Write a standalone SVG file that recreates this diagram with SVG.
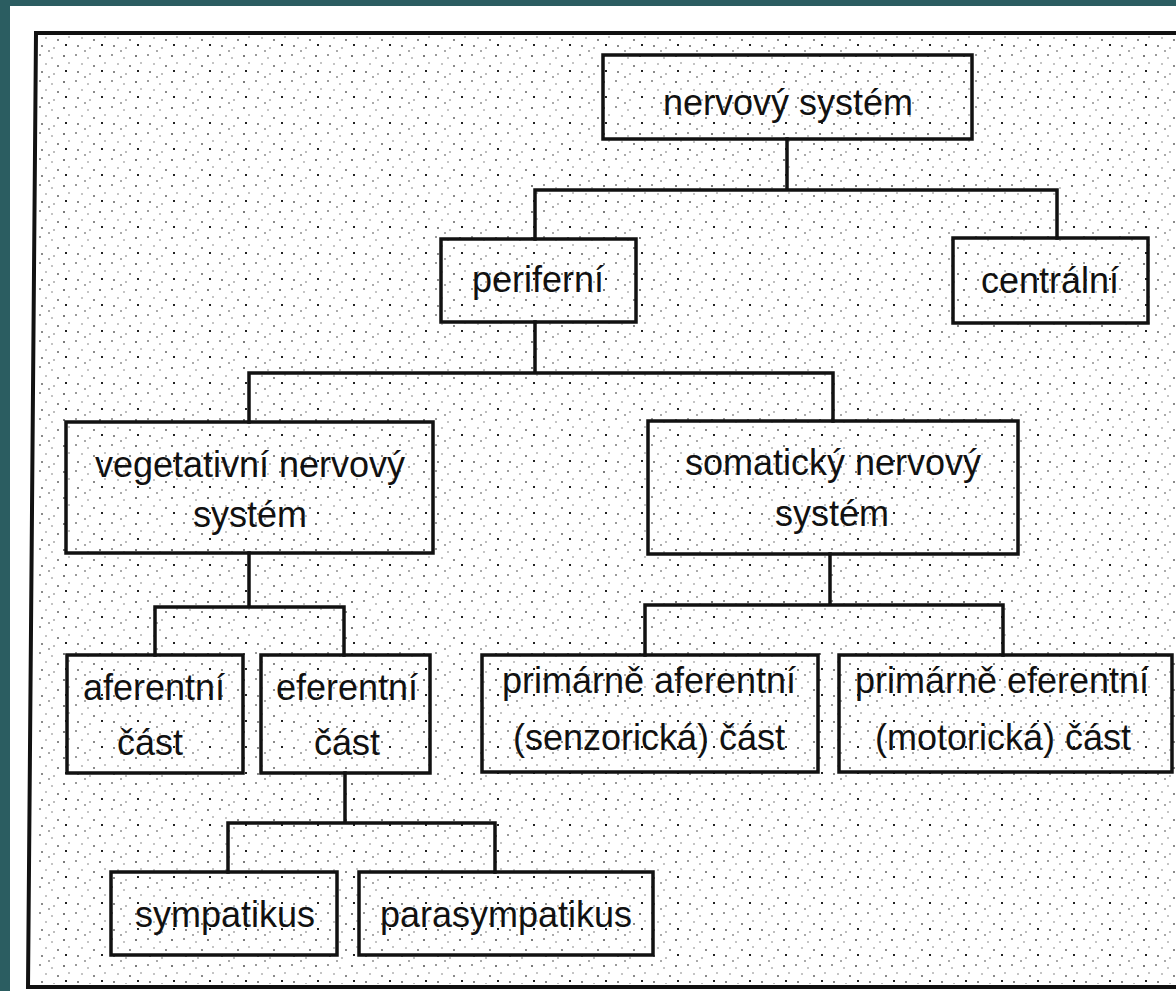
<svg xmlns="http://www.w3.org/2000/svg" width="1176" height="991" viewBox="0 0 1176 991">
  <defs>
    <pattern id="noise" x="0" y="0" width="36" height="26" patternUnits="userSpaceOnUse">
      <rect x="3" y="2" width="2" height="2" fill="#9a9a9a"/>
      <rect x="15" y="5" width="2" height="2" fill="#c4c4c4"/>
      <rect x="27" y="3" width="2" height="2" fill="#7a7a7a"/>
      <rect x="9" y="11" width="2" height="2" fill="#c4c4c4"/>
      <rect x="21" y="13" width="2" height="2" fill="#8a8a8a"/>
      <rect x="32" y="10" width="2" height="2" fill="#c4c4c4"/>
      <rect x="5" y="19" width="2" height="2" fill="#8a8a8a"/>
      <rect x="17" y="21" width="2" height="2" fill="#bdbdbd"/>
      <rect x="29" y="18" width="2" height="2" fill="#222"/>
      <rect x="12" y="24" width="2" height="2" fill="#aaaaaa"/>
    </pattern>
    <style>
      .box { fill: none; stroke: #111; stroke-width: 3.5; }
      .lbl { font-family: "Liberation Sans", Arial, sans-serif; font-size: 36px; fill: #111; text-anchor: middle; }
      .con { fill: none; stroke: #111; stroke-width: 3.5; stroke-linecap: square; }
    </style>
  </defs>
  <rect x="0" y="0" width="1176" height="991" fill="#2b5d61"/>
  <rect x="10" y="6" width="1166" height="985" fill="#ffffff"/>
  <rect x="38" y="36" width="1138" height="948" fill="url(#noise)"/>
  <path d="M1176,33 L36,33 L28,987 L1176,987" fill="none" stroke="#111" stroke-width="4"/>

  <g id="connectors">
    <path class="con" d="M787,139 V190 M535,190 H1057 M535,190 V239 M1057,190 V238"/>
    <path class="con" d="M535,322 V373 M249,373 H833 M249,373 V422 M833,373 V421"/>
    <path class="con" d="M249,553 V607 M155,607 H344 M155,607 V655 M344,607 V655"/>
    <path class="con" d="M830,554 V605 M645,605 H1003 M645,605 V655 M1003,605 V655"/>
    <path class="con" d="M345,773 V823 M228,823 H495 M228,823 V872 M495,823 V872"/>
  </g>

  <g id="n-nervovy-system">
    <rect class="box" x="603" y="55" width="369" height="84"/>
    <text class="lbl" x="788" y="115">nervový systém</text>
  </g>
  <g id="n-periferni">
    <rect class="box" x="441" y="239" width="195" height="83"/>
    <text class="lbl" x="538" y="292">periferní</text>
  </g>
  <g id="n-centralni">
    <rect class="box" x="953" y="238" width="195" height="85"/>
    <text class="lbl" x="1050" y="293">centrální</text>
  </g>
  <g id="n-vegetativni">
    <rect class="box" x="66" y="422" width="367" height="131"/>
    <text class="lbl" x="250" y="477">vegetativní nervový</text>
    <text class="lbl" x="250" y="527">systém</text>
  </g>
  <g id="n-somaticky">
    <rect class="box" x="648" y="421" width="370" height="133"/>
    <text class="lbl" x="833" y="475">somatický nervový</text>
    <text class="lbl" x="832" y="526">systém</text>
  </g>
  <g id="n-aferentni">
    <rect class="box" x="67" y="655" width="176" height="118"/>
    <text class="lbl" x="154" y="700">aferentní</text>
    <text class="lbl" x="150" y="755">část</text>
  </g>
  <g id="n-eferentni">
    <rect class="box" x="261" y="655" width="169" height="118"/>
    <text class="lbl" x="347" y="700">eferentní</text>
    <text class="lbl" x="347" y="755">část</text>
  </g>
  <g id="n-primarne-aferentni">
    <rect class="box" x="482" y="655" width="336" height="117"/>
    <text class="lbl" x="649" y="693">primárně aferentní</text>
    <text class="lbl" x="649" y="750">(senzorická) část</text>
  </g>
  <g id="n-primarne-eferentni">
    <rect class="box" x="839" y="655" width="333" height="117"/>
    <text class="lbl" x="1002" y="693">primárně eferentní</text>
    <text class="lbl" x="1003" y="750">(motorická) část</text>
  </g>
  <g id="n-sympatikus">
    <rect class="box" x="111" y="872" width="226" height="83"/>
    <text class="lbl" x="225" y="927">sympatikus</text>
  </g>
  <g id="n-parasympatikus">
    <rect class="box" x="359" y="872" width="294" height="83"/>
    <text class="lbl" x="506" y="927">parasympatikus</text>
  </g>
</svg>
